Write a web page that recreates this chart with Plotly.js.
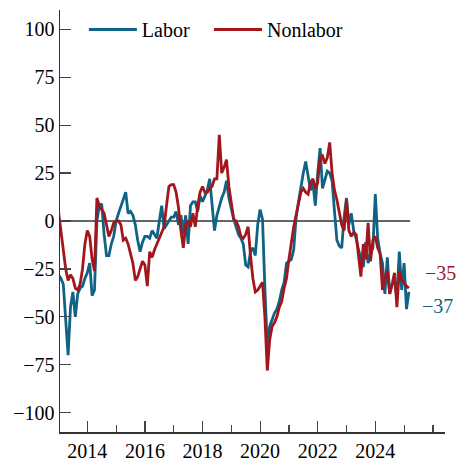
<!DOCTYPE html>
<html>
<head>
<meta charset="utf-8">
<script src="https://cdn.plot.ly/plotly-3.0.1.min.js"></script>
<style>html,body{margin:0;padding:0;background:#fff;}#chart{width:457px;height:460px;}</style>
</head>
<body>
<div id="chart"></div>
<script>
// Monthly values, Jan 2013 .. Mar 2025
const startYear = 2013;
const labor = [
  -28, -30, -33, -50, -70, -45, -37, -50, -38, -35, -34, -30,   // 2013
  -27, -22, -39, -36, 0, 8, 9, -7, -18, -18, -12, -8,           // 2014
  0, 4, 8, 12, 15, 4, 5, 3, -2, -10, -16, -11,                  // 2015
  -8, -8, -9, -5, -7, -9, 0, 8, -4, -2, 0, 2,                   // 2016
  2, 5, -2, 3, -7, 3, -12, 8, 10, 10, 5, 13,                    // 2017
  10, 13, 16, 22, 8, -5, 3, 8, 12, 15, 21, 12,                  // 2018
  6, 1, -3, -7, -9, -12, -23, -24, -16, -14, -18, -2,           // 2019
  6, 1, -35, -66, -55, -51, -48, -46, -42, -36, -32, -22,       // 2020
  -21, -20, -15, 2, 10, 18, 25, 31, 24, 16, 20, 8,              // 2021
  25, 38, 17, 21, 26, 25, 21, 5, -10, -13, -14, 2,              // 2022
  12, -2, 4, -5, -9, -15, -20, -24, -11, -22, -17, -14,         // 2023
  14, -9, -17, -22, -38, -19, -38, -33, -31, -40, -16, -36,     // 2024
  -22, -46, -37                                                 // 2025
];
const nonlabor = [
  5, -5, -15, -25, -31, -28, -30, -35, -36, -33, -25, -12,      // 2013
  -5, -8, -20, -26, 12, 8, 6, 4, -2, -8, -5, -1,                // 2014
  0, 0, -2, -10, -9, -12, -17, -22, -31, -29, -25, -21,         // 2015
  -23, -34, -16, -19, -15, -12, -10, -7, -3, 8, 18, 19,         // 2016
  19, 15, 7, -5, -14, -2, 0, -3, 4, -3, 8, 15,                  // 2017
  18, 15, 15, 17, 18, 22, 22, 45, 25, 28, 32, 18,               // 2018
  8, 1, 0, -3, -8, -9, -7, -3, -18, -30, -37, -36,              // 2019
  -34, -32, -50, -78, -62, -55, -53, -50, -45, -42, -35, -30,   // 2020
  -20, -10, -3, 3, 10, 15, 17, 15, 14, 20, 22, 17,              // 2021
  20, 33, 34, 30, 33, 41, 25, 16, 11, 5, -2, -5,                // 2022
  11, -5, -8, -6, -7, -18, -29, -12, -20, -1, -21, -10,         // 2023
  -8, -14, -17, -36, -30, -26, -38, -33, -27, -45, -26, -31,    // 2024
  -32, -34, -35                                                 // 2025
];
const seriesNames = ['Labor', 'Nonlabor'];
const seriesColors = ['#0f6384', '#a3161c'];
const yTickVals = [-100, -75, -50, -25, 0, 25, 50, 75, 100];
const xTickVals = [2014, 2016, 2018, 2020, 2022, 2024];

const dates = labor.map((_, i) => startYear + i / 12);
const lastX = dates[dates.length - 1];
const fmt = v => (v < 0 ? '\u2212' : '') + Math.abs(v);

const FONT = '"Liberation Serif", "Times New Roman", serif';
const FS = 20;

const legendIds = ['legend', 'legend2'];
const traces = [labor, nonlabor].map((vals, k) => ({
  x: dates, y: vals, type: 'scatter', mode: 'lines', name: seriesNames[k],
  legend: legendIds[k],
  line: {color: seriesColors[k], width: 2.8}
}));

const legendBase = {orientation: 'h', y: 1.0, xanchor: 'left', yanchor: 'top',
  font: {family: FONT, size: FS}, bgcolor: 'rgba(0,0,0,0)', itemwidth: 48};

const layout = {
  width: 457, height: 460,
  margin: {l: 60, r: 12, t: 10, b: 28},
  paper_bgcolor: '#fff', plot_bgcolor: '#fff',
  font: {family: FONT, size: FS, color: '#000'},
  showlegend: true,
  legend: Object.assign({}, legendBase, {x: 0.062}),
  legend2: Object.assign({}, legendBase, {x: 0.387}),
  xaxis: {
    range: [2013.052, 2026.42], showgrid: false, zeroline: false,
    showline: true, linecolor: '#333', linewidth: 1.5,
    ticks: 'inside', ticklen: 11, tickwidth: 1.2, tickcolor: '#444',
    tickvals: xTickVals, ticktext: xTickVals.map(String),
    minor: {dtick: 1, tick0: 2013, ticks: 'inside', ticklen: 7, tickwidth: 1.2, tickcolor: '#444', showgrid: false},
    tickfont: {family: FONT, size: FS, color: '#000'}
  },
  yaxis: {
    range: [-110.07, 110.07], showgrid: false, zeroline: false,
    showline: true, linecolor: '#333', linewidth: 1.5,
    ticks: 'inside', ticklen: 11, tickwidth: 1.2, tickcolor: '#444',
    tickvals: yTickVals, ticktext: yTickVals.map(fmt),
    tickfont: {family: FONT, size: FS, color: '#000'}
  },
  shapes: [{type: 'line', xref: 'x', yref: 'y', x0: dates[0], x1: lastX + 1/24, y0: 0, y1: 0,
            line: {color: '#333', width: 1.5}, layer: 'below'}],
  annotations: [
    {x: lastX + 0.48, y: nonlabor[nonlabor.length - 1], xref: 'x', yref: 'y', xanchor: 'left', yanchor: 'middle',
     yshift: 15, text: fmt(nonlabor[nonlabor.length - 1]), showarrow: false,
     font: {family: FONT, size: FS, color: seriesColors[1]}},
    {x: lastX + 0.4, y: labor[labor.length - 1], xref: 'x', yref: 'y', xanchor: 'left', yanchor: 'middle',
     yshift: -14, text: fmt(labor[labor.length - 1]), showarrow: false,
     font: {family: FONT, size: FS, color: seriesColors[0]}}
  ]
};

Plotly.newPlot('chart', traces, layout, {displayModeBar: false, staticPlot: true});
</script>
</body>
</html>
